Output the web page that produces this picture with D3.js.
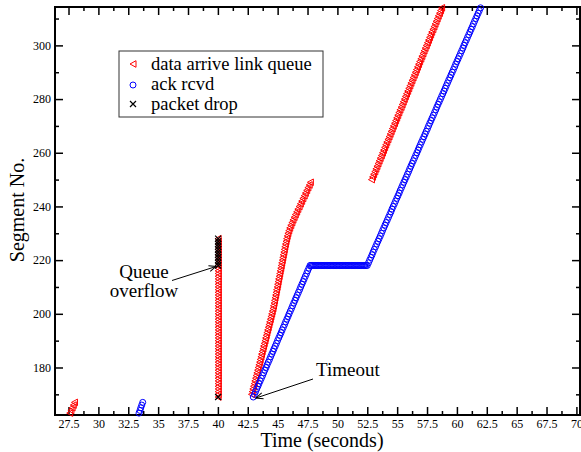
<!DOCTYPE html>
<html>
<head>
<meta charset="utf-8">
<script src="https://cdnjs.cloudflare.com/ajax/libs/d3/7.8.5/d3.min.js"></script>
<style>
body { margin: 0; background: #fff; }
svg text { font-family: "Liberation Serif", "Times New Roman", serif; fill: #000; }
</style>
</head>
<body>
<div id="chart"></div>
<script>
// tick values
var xTicks = [27.5, 30, 32.5, 35, 37.5, 40, 42.5, 45, 47.5, 50, 52.5, 55, 57.5, 60, 62.5, 65, 67.5, 70];
var xMinorTicks = [28.75, 31.25, 33.75, 36.25, 38.75, 41.25, 43.75, 46.25, 48.75, 51.25, 53.75, 56.25, 58.75, 61.25, 63.75, 66.25, 68.75];
var yTicks = [180, 200, 220, 240, 260, 280, 300];
var yMinorTicks = [170, 190, 210, 230, 250, 270, 290, 310];

// data arrive link queue: first segment number + arrival time of each consecutive segment
var arriveRun1Start = 163;
var arriveRun1Times = [27.60, 27.70, 27.80, 27.90, 28.00];

var arriveBurstStart = 169; // segments 169..228 all arrive at t = 40
var arriveBurstTimes = [
  40.02, 40.02, 40.02, 40.02, 40.02, 40.02, 40.02, 40.02, 40.02, 40.02,
  40.02, 40.02, 40.02, 40.02, 40.02, 40.02, 40.02, 40.02, 40.02, 40.02,
  40.02, 40.02, 40.02, 40.02, 40.02, 40.02, 40.02, 40.02, 40.02, 40.02,
  40.02, 40.02, 40.02, 40.02, 40.02, 40.02, 40.02, 40.02, 40.02, 40.02,
  40.02, 40.02, 40.02, 40.02, 40.02, 40.02, 40.02, 40.02, 40.02, 40.02,
  40.02, 40.02, 40.02, 40.02, 40.02, 40.02, 40.02, 40.02, 40.02, 40.02];

var arriveRun3Start = 170;
var arriveRun3Times = [
  42.81, 42.87, 42.92, 42.98, 43.04, 43.09, 43.15, 43.20, 43.26, 43.32,
  43.37, 43.43, 43.49, 43.54, 43.60, 43.65, 43.71, 43.77, 43.82, 43.88,
  43.94, 43.99, 44.05, 44.10, 44.16, 44.22, 44.27, 44.33, 44.39, 44.44,
  44.50, 44.55, 44.61, 44.65, 44.70, 44.74, 44.78, 44.83, 44.87, 44.91,
  44.96, 45.00, 45.04, 45.08, 45.13, 45.17, 45.21, 45.26, 45.30, 45.34,
  45.39, 45.43, 45.47, 45.52, 45.56, 45.60, 45.65, 45.70, 45.75, 45.80,
  45.86, 45.93, 46.01, 46.10, 46.19, 46.28, 46.38, 46.48, 46.59, 46.69,
  46.80, 46.90, 47.01, 47.11, 47.22, 47.32, 47.43, 47.53, 47.64, 47.74];

var arriveRun4Start = 250;
var arriveRun4Times = [
  52.85, 52.94, 53.03, 53.13, 53.22, 53.31, 53.40, 53.49, 53.58, 53.68,
  53.77, 53.86, 53.95, 54.04, 54.13, 54.23, 54.32, 54.41, 54.50, 54.59,
  54.68, 54.78, 54.87, 54.96, 55.05, 55.14, 55.23, 55.33, 55.42, 55.51,
  55.60, 55.69, 55.78, 55.88, 55.97, 56.06, 56.15, 56.24, 56.33, 56.43,
  56.52, 56.61, 56.70, 56.79, 56.88, 56.98, 57.07, 57.16, 57.25, 57.34,
  57.44, 57.53, 57.62, 57.71, 57.80, 57.89, 57.99, 58.08, 58.17, 58.26,
  58.35, 58.44, 58.54, 58.63, 58.72];

// ack rcvd
var ackRun1Start = 163;
var ackRun1Times = [33.40, 33.48, 33.55, 33.63, 33.71];

var ackRun2Start = 169;
var ackRun2Times = [
  42.96, 43.06, 43.15, 43.25, 43.35, 43.44, 43.54, 43.64, 43.74, 43.83,
  43.93, 44.03, 44.12, 44.22, 44.32, 44.41, 44.51, 44.61, 44.70, 44.80,
  44.90, 44.99, 45.09, 45.19, 45.29, 45.38, 45.48, 45.58, 45.67, 45.77,
  45.87, 45.96, 46.06, 46.16, 46.25, 46.35, 46.45, 46.54, 46.64, 46.74,
  46.84, 46.93, 47.03, 47.13, 47.22, 47.32, 47.42, 47.51, 47.61, 47.71];

var dupAckSeg = 218; // duplicate acks, all for segment 218
var dupAckTimes = [
  47.8, 47.9, 48.0, 48.1, 48.2, 48.3, 48.4, 48.5, 48.6, 48.7, 48.8, 48.9,
  49.0, 49.1, 49.2, 49.3, 49.4, 49.5, 49.6, 49.7, 49.8, 49.9, 50.0, 50.1,
  50.2, 50.3, 50.4, 50.5, 50.6, 50.7, 50.8, 50.9, 51.0, 51.1, 51.2, 51.3,
  51.4, 51.5, 51.6, 51.7, 51.8, 51.9, 52.0, 52.1, 52.2, 52.3, 52.4, 52.5];

var ackRun3Start = 219;
var ackRun3Times = [
  52.60, 52.70, 52.80, 52.90, 52.99, 53.09, 53.19, 53.29, 53.39, 53.49,
  53.59, 53.69, 53.78, 53.88, 53.98, 54.08, 54.18, 54.28, 54.38, 54.48,
  54.57, 54.67, 54.77, 54.87, 54.97, 55.07, 55.17, 55.26, 55.36, 55.46,
  55.56, 55.66, 55.76, 55.86, 55.96, 56.05, 56.15, 56.25, 56.35, 56.45,
  56.55, 56.65, 56.75, 56.84, 56.94, 57.04, 57.14, 57.24, 57.34, 57.44,
  57.54, 57.63, 57.73, 57.83, 57.93, 58.03, 58.13, 58.23, 58.32, 58.42,
  58.52, 58.62, 58.72, 58.82, 58.92, 59.02, 59.11, 59.21, 59.31, 59.41,
  59.51, 59.61, 59.71, 59.81, 59.90, 60.00, 60.10, 60.20, 60.30, 60.40,
  60.50, 60.59, 60.69, 60.79, 60.89, 60.99, 61.09, 61.19, 61.29, 61.38,
  61.48, 61.58, 61.68, 61.78, 61.88, 61.98];

// packet drop [time, segment]
var dropPoints = [
  [40.02, 169], [40.02, 218], [40.02, 219], [40.02, 220], [40.02, 221], [40.02, 222],
  [40.02, 223], [40.02, 224], [40.02, 225], [40.02, 226], [40.02, 227], [40.02, 228]];

var serif = '"Liberation Serif", "Times New Roman", serif';

function init() {
    var w = 581, h = 452;
    var left = 55, right = 580, top = 7, bottom = 415;

    var x = d3.scaleLinear().domain([26.37, 70.3]).range([left, right]);
    var y = d3.scaleLinear().domain([162.3, 314.3]).range([bottom, top]);

    function run(start, times) {
        return times.map(function(t, i) { return { t: t, s: start + i }; });
    }
    var arrive = [].concat(
        run(arriveRun1Start, arriveRun1Times),
        run(arriveBurstStart, arriveBurstTimes),
        run(arriveRun3Start, arriveRun3Times),
        run(arriveRun4Start, arriveRun4Times));
    var acks = [].concat(
        run(ackRun1Start, ackRun1Times),
        run(ackRun2Start, ackRun2Times),
        dupAckTimes.map(function(t) { return { t: t, s: dupAckSeg }; }),
        run(ackRun3Start, ackRun3Times));
    var drops = dropPoints.map(function(d) { return { t: d[0], s: d[1] }; });

    var svg = d3.select("#chart").append("svg")
        .attr("width", w).attr("height", h);

    var triPath = "M-3,0L3,-3.3L3,3.3Z";
    var crossPath = "M-3,-3L3,3M-3,3L3,-3";

    // axes (ticks inward)
    function styleAxis(g) {
        g.attr("font-family", serif);
        g.select(".domain").remove();
        g.selectAll(".tick line").attr("stroke", "#000").attr("stroke-width", 1.5);
        g.selectAll(".tick text").style("font-size", "12px").style("font-family", serif).attr("fill", "#000");
    }
    var fmt = function(d) { return d % 1 === 0 ? d : d.toFixed(1); };

    svg.append("g").attr("transform", "translate(0," + bottom + ")")
        .call(d3.axisBottom(x).tickValues(xTicks).tickFormat(fmt).tickSize(-8).tickPadding(4))
        .call(styleAxis);
    svg.append("g").attr("transform", "translate(0," + bottom + ")")
        .call(d3.axisBottom(x).tickValues(xMinorTicks).tickFormat("").tickSize(-4))
        .call(styleAxis);
    svg.append("g").attr("transform", "translate(0," + top + ")")
        .call(d3.axisTop(x).tickValues(xTicks).tickFormat("").tickSize(-8))
        .call(styleAxis);
    svg.append("g").attr("transform", "translate(0," + top + ")")
        .call(d3.axisTop(x).tickValues(xMinorTicks).tickFormat("").tickSize(-4))
        .call(styleAxis);
    svg.append("g").attr("transform", "translate(" + left + ",0)")
        .call(d3.axisLeft(y).tickValues(yTicks).tickSize(-8).tickPadding(4))
        .call(styleAxis);
    svg.append("g").attr("transform", "translate(" + left + ",0)")
        .call(d3.axisLeft(y).tickValues(yMinorTicks).tickFormat("").tickSize(-4))
        .call(styleAxis);
    svg.append("g").attr("transform", "translate(" + right + ",0)")
        .call(d3.axisRight(y).tickValues(yTicks).tickFormat("").tickSize(-8))
        .call(styleAxis);
    svg.append("g").attr("transform", "translate(" + right + ",0)")
        .call(d3.axisRight(y).tickValues(yMinorTicks).tickFormat("").tickSize(-4))
        .call(styleAxis);

    // frame
    svg.append("rect")
        .attr("x", left).attr("y", top)
        .attr("width", right - left).attr("height", bottom - top)
        .attr("fill", "none").attr("stroke", "#000").attr("stroke-width", 2);

    // data arrive link queue
    svg.append("g").selectAll("path")
        .data(arrive).enter().append("path")
        .attr("d", triPath)
        .attr("transform", function(d) { return "translate(" + x(d.t) + "," + y(d.s) + ")"; })
        .attr("fill", "none").attr("stroke", "#ff0000").attr("stroke-width", 1);

    // ack rcvd
    svg.append("g").selectAll("circle")
        .data(acks).enter().append("circle")
        .attr("cx", function(d) { return x(d.t); })
        .attr("cy", function(d) { return y(d.s); })
        .attr("r", 3)
        .attr("fill", "none").attr("stroke", "#0000ff").attr("stroke-width", 1);

    // packet drop
    svg.append("g").selectAll("path")
        .data(drops).enter().append("path")
        .attr("d", crossPath)
        .attr("transform", function(d) { return "translate(" + x(d.t) + "," + y(d.s) + ")"; })
        .attr("fill", "none").attr("stroke", "#000").attr("stroke-width", 1.2);

    // axis titles
    svg.append("text")
        .attr("x", 322).attr("y", 447)
        .attr("text-anchor", "middle").style("font-size", "20px")
        .text("Time (seconds)");
    svg.append("text")
        .attr("transform", "translate(24,210) rotate(-90)")
        .attr("text-anchor", "middle").style("font-size", "20px")
        .text("Segment No.");

    // legend
    svg.append("rect")
        .attr("x", 119).attr("y", 51).attr("width", 204).attr("height", 66)
        .attr("fill", "#fff").attr("stroke", "#333").attr("stroke-width", 1);
    var legend = [
        { label: "data arrive link queue", kind: "tri", my: 64, ty: 69.5 },
        { label: "ack rcvd", kind: "circle", my: 85, ty: 90 },
        { label: "packet drop", kind: "cross", my: 104, ty: 109.5 }
    ];
    legend.forEach(function(l) {
        if (l.kind === "tri") {
            svg.append("path").attr("d", triPath)
                .attr("transform", "translate(133," + l.my + ")")
                .attr("fill", "none").attr("stroke", "#ff0000");
        } else if (l.kind === "circle") {
            svg.append("circle").attr("cx", 133).attr("cy", l.my).attr("r", 3)
                .attr("fill", "none").attr("stroke", "#0000ff");
        } else {
            svg.append("path").attr("d", crossPath)
                .attr("transform", "translate(133," + l.my + ")")
                .attr("fill", "none").attr("stroke", "#000").attr("stroke-width", 1.2);
        }
        svg.append("text").attr("x", 151).attr("y", l.ty)
            .style("font-size", "18.5px").text(l.label);
    });

    // annotations
    var defs = svg.append("defs");
    defs.append("marker")
        .attr("id", "arrow").attr("viewBox", "-8 -4 9 8")
        .attr("refX", 0).attr("refY", 0)
        .attr("markerWidth", 9).attr("markerHeight", 8)
        .attr("markerUnits", "userSpaceOnUse")
        .attr("orient", "auto")
        .append("path").attr("d", "M-7,-3L0,0L-7,3")
        .attr("fill", "none").attr("stroke", "#000").attr("stroke-width", 1);

    svg.append("text").attr("x", 144).attr("y", 278)
        .attr("text-anchor", "middle").style("font-size", "19px").text("Queue");
    svg.append("text").attr("x", 144).attr("y", 297)
        .attr("text-anchor", "middle").style("font-size", "19px").text("overflow");
    svg.append("line")
        .attr("x1", 172).attr("y1", 280.5).attr("x2", 216).attr("y2", 266.5)
        .attr("stroke", "#000").attr("stroke-width", 1)
        .attr("marker-end", "url(#arrow)");

    svg.append("text").attr("x", 316).attr("y", 376)
        .style("font-size", "19px").text("Timeout");
    svg.append("line")
        .attr("x1", 313).attr("y1", 379).attr("x2", 256).attr("y2", 398)
        .attr("stroke", "#000").attr("stroke-width", 1)
        .attr("marker-end", "url(#arrow)");
}

window.onload = init;
</script>
</body>
</html>
